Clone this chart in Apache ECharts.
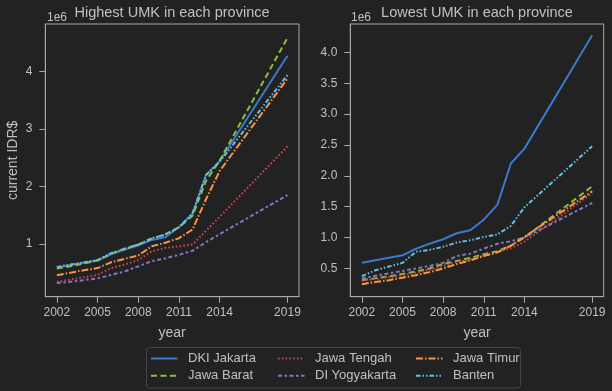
<!DOCTYPE html>
<html>
<head>
<meta charset="utf-8">
<script src="https://cdn.jsdelivr.net/npm/echarts@6/dist/echarts.min.js"></script>
<style>
html,body{margin:0;padding:0;background:#222222;}
#chart{width:612px;height:391px;}
</style>
</head>
<body>
<div id="chart"></div>
<script>
// ---- data (values in millions of IDR) ----
const years = [2002,2003,2004,2005,2006,2007,2008,2009,2010,2011,2012,2013,2014,2019];
const provinces = ['DKI Jakarta','Jawa Barat','Jawa Tengah','DI Yogyakarta','Jawa Timur','Banten'];

// Highest UMK
const hiDKI  = [0.591,0.632,0.672,0.712,0.819,0.901,0.973,1.070,1.118,1.290,1.529,2.200,2.441,4.276];
const hiJBR  = [0.57,0.61,0.66,0.71,0.83,0.92,0.99,1.09,1.17,1.29,1.49,2.10,2.45,4.59];
const hiJTG  = [0.34,0.38,0.42,0.46,0.58,0.64,0.72,0.87,0.93,0.96,0.99,1.23,1.47,2.70];
const hiDIY  = [0.32,0.34,0.37,0.40,0.46,0.52,0.61,0.70,0.75,0.81,0.88,1.03,1.17,1.85];
const hiJTM  = [0.455,0.50,0.54,0.58,0.68,0.74,0.80,0.96,1.02,1.10,1.25,1.78,2.27,3.88];
const hiBTN  = [0.60,0.64,0.68,0.72,0.84,0.91,0.99,1.10,1.16,1.29,1.53,2.20,2.43,3.94];

// Lowest UMK
const loDKI  = [0.591,0.632,0.672,0.712,0.819,0.901,0.973,1.070,1.118,1.290,1.529,2.200,2.441,4.276];
const loJBR  = [0.31,0.34,0.37,0.41,0.45,0.50,0.57,0.62,0.67,0.73,0.78,0.87,1.00,1.83];
const loJTG  = [0.30,0.33,0.36,0.39,0.43,0.48,0.54,0.60,0.65,0.71,0.76,0.83,0.93,1.72];
const loDIY  = [0.34,0.38,0.42,0.46,0.50,0.54,0.59,0.70,0.74,0.82,0.90,0.94,1.00,1.56];
const loJTM  = [0.245,0.28,0.31,0.35,0.39,0.44,0.50,0.57,0.63,0.70,0.76,0.87,1.01,1.75];
const loBTN  = [0.376,0.47,0.53,0.59,0.77,0.80,0.85,0.92,0.955,1.01,1.05,1.19,1.49,2.48];

const xTicks = [2002,2005,2008,2011,2014,2019];
const yTicksHi = [1,2,3,4];
const yTicksLo = [0.5,1.0,1.5,2.0,2.5,3.0,3.5,4.0];

// ---- styles ----
const colors = ['#3b78cf','#8dbd3f','#c8494d','#8574c4','#ff9248','#63c0e2'];
const dashes = ['solid',[6,3.5],[1.6,2.2],[4,2.5,2.5,2.5],[7,2,1.5,2],[4.5,2,1.5,2,1.5,2]];
const txt = '#c0c0c0';
const spine = '#a8a8a8';
const FONT = 'Liberation Sans, Arial, sans-serif';

const hiSets = [hiDKI,hiJBR,hiJTG,hiDIY,hiJTM,hiBTN];
const loSets = [loDKI,loJBR,loJTG,loDIY,loJTM,loBTN];

function pairs(arr){ return years.map((y,i)=>[y,arr[i]]); }

const series = [];
[hiSets, loSets].forEach((sets, gi) => {
  sets.forEach((arr, i) => {
    series.push({
      name: provinces[i], type: 'line', xAxisIndex: gi, yAxisIndex: gi,
      data: pairs(arr), symbol: 'none', showSymbol: false, animation: false,
      lineStyle: {color: colors[i], width: 2, type: dashes[i]},
      itemStyle: {color: colors[i]},
      z: 2
    });
  });
});

function xAxis(gi){
  return {
    type: 'value', gridIndex: gi, min: 2001.15, max: 2019.85,
    name: 'year', nameLocation: 'middle', nameGap: 29,
    nameTextStyle: {color: txt, fontSize: 14, fontFamily: FONT},
    axisLine: {show: true, lineStyle: {color: spine, width: 1}},
    axisTick: {show: true, length: 6, lineStyle: {color: spine}, customValues: xTicks},
    axisLabel: {color: txt, fontSize: 12, fontFamily: FONT, margin: 10, customValues: xTicks,
                formatter: v => String(v)},
    splitLine: {show: false}
  };
}
function yAxis(gi){
  const ticks = gi === 0 ? yTicksHi : yTicksLo;
  return {
    type: 'value', gridIndex: gi,
    min: gi === 0 ? 0.081 : 0.042, max: gi === 0 ? 4.83 : 4.46,
    name: gi === 0 ? 'current IDR$' : '', nameLocation: 'middle', nameGap: 25,
    nameTextStyle: {color: txt, fontSize: 14, fontFamily: FONT},
    axisLine: {show: true, lineStyle: {color: spine, width: 1}},
    axisTick: {show: true, length: 6, lineStyle: {color: spine}, customValues: ticks},
    axisLabel: {color: txt, fontSize: 12, fontFamily: FONT, margin: 13, customValues: ticks,
                formatter: v => gi === 0 ? String(Math.round(v)) : v.toFixed(1)},
    splitLine: {show: false}
  };
}

function legend(items, left){
  return {
    data: items, orient: 'vertical', left: left, top: 352, padding: 0,
    itemWidth: 26.5, itemHeight: 14, itemGap: 4.3,
    itemStyle: {opacity: 0},
    textStyle: {color: txt, fontSize: 13, fontFamily: FONT, padding: [0,0,0,5.5]},
    selectedMode: false
  };
}

const option = {
  backgroundColor: '#222222',
  animation: false,
  title: [
    {text: 'Highest UMK in each province', left: 172, top: 5, padding: 0, textAlign: 'center',
     textStyle: {color: txt, fontSize: 14.5, fontWeight: 'normal', fontFamily: FONT}},
    {text: 'Lowest UMK in each province', left: 477, top: 5, padding: 0, textAlign: 'center',
     textStyle: {color: txt, fontSize: 14.5, fontWeight: 'normal', fontFamily: FONT}}
  ],
  grid: [
    {left: 45.3, right: 313, top: 24, bottom: 94.3, show: true, borderColor: spine, borderWidth: 1, backgroundColor: 'transparent'},
    {left: 350.3, right: 8.3, top: 24, bottom: 94.3, show: true, borderColor: spine, borderWidth: 1, backgroundColor: 'transparent'}
  ],
  xAxis: [xAxis(0), xAxis(1)],
  yAxis: [yAxis(0), yAxis(1)],
  legend: [
    legend(['DKI Jakarta','Jawa Barat'], 150),
    legend(['Jawa Tengah','DI Yogyakarta'], 277),
    legend(['Jawa Timur','Banten'], 415)
  ],
  graphic: [
    {type: 'rect', shape: {x: 146.5, y: 347.5, width: 374, height: 40.5, r: 3},
     style: {fill: '#222222', stroke: '#444444', lineWidth: 1}, z: -1, silent: true},
    {type: 'text', left: 47, top: 12, style: {text: '1e6', fill: txt, fontSize: 12, fontFamily: FONT}},
    {type: 'text', left: 351, top: 12, style: {text: '1e6', fill: txt, fontSize: 12, fontFamily: FONT}}
  ],
  series: series
};

const chart = echarts.init(document.getElementById('chart'), null, {renderer: 'canvas'});
chart.setOption(option);
</script>
</body>
</html>
